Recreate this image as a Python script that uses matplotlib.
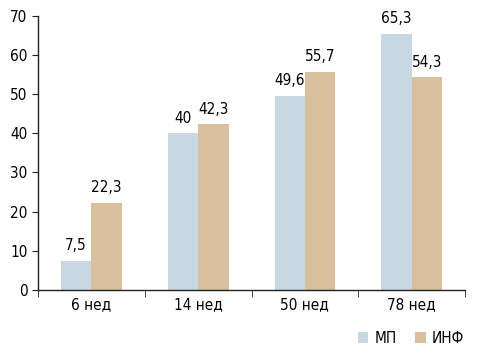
import matplotlib
matplotlib.use("Agg")
import matplotlib.pyplot as plt
import numpy as np

categories = ["6 нед", "14 нед", "50 нед", "78 нед"]
mp = [7.5, 40, 49.6, 65.3]
inf = [22.3, 42.3, 55.7, 54.3]
mp_labels = ["7,5", "40", "49,6", "65,3"]
inf_labels = ["22,3", "42,3", "55,7", "54,3"]

plt.rcParams["font.family"] = ["Liberation Sans Narrow", "DejaVu Sans"]
plt.rcParams["font.stretch"] = "condensed"
plt.rcParams["font.size"] = 11

fig = plt.figure(figsize=(4.78, 3.54), dpi=100)
ax = fig.add_axes([0.0795, 0.181, 0.8935, 0.774])

x = np.arange(len(categories))
w = 0.285
b1 = ax.bar(x - w / 2, mp, w, color="#c8d8e2", label="МП")
b2 = ax.bar(x + w / 2, inf, w, color="#d8c09e", label="ИНФ")

for rect, lab in zip(b1, mp_labels):
    ax.text(rect.get_x() + rect.get_width() / 2, rect.get_height() + 2, lab,
            ha="center", va="bottom")
for rect, lab in zip(b2, inf_labels):
    ax.text(rect.get_x() + rect.get_width() / 2, rect.get_height() + 2, lab,
            ha="center", va="bottom")

ax.set_xlim(-0.5, len(categories) - 0.5)
ax.set_ylim(0, 70)
ax.set_yticks(range(0, 71, 10))
ax.set_xticks(x)
ax.set_xticklabels(categories)
ax.set_xticks(np.arange(-0.5, len(categories), 1), minor=True)
ax.tick_params(axis="x", which="major", length=0, pad=5)
ax.tick_params(axis="x", which="minor", length=5, direction="out", color="#222222")
ax.tick_params(axis="y", length=4, direction="out", color="#222222")

for s in ["top", "right"]:
    ax.spines[s].set_visible(False)
for s in ["left", "bottom"]:
    ax.spines[s].set_color("#222222")
    ax.spines[s].set_linewidth(1)

fig.legend(handles=[b1, b2], loc="lower right", bbox_to_anchor=(1.0, -0.015),
           ncol=2, frameon=False, handlelength=0.7, handleheight=0.7,
           handletextpad=0.4, columnspacing=1.2)

fig.savefig("out.png", dpi=100)
